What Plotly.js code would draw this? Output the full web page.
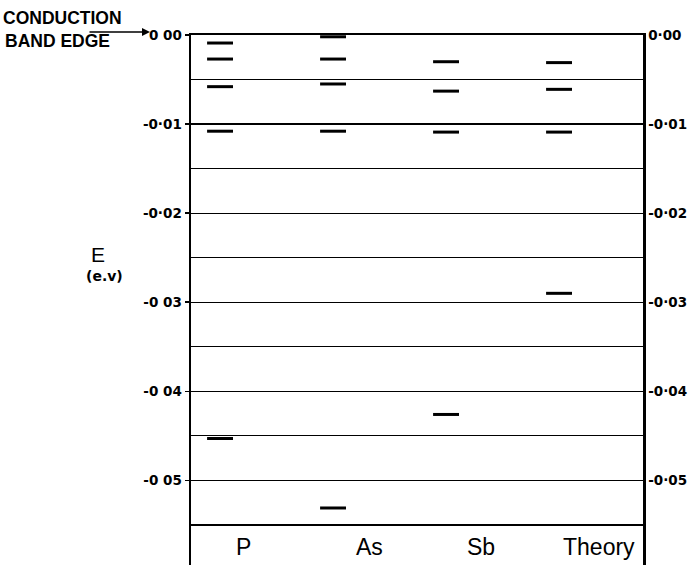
<!DOCTYPE html>
<html><head><meta charset="utf-8">
<script src="https://cdn.plot.ly/plotly-3.0.1.min.js"></script>
<style>html,body{margin:0;padding:0;background:#fff}#chart{width:692px;height:565px}</style>
</head><body><div id="chart"></div>
<script>
// Categories (columns) and energy levels in eV below the conduction band edge
const categories = ["P", "As", "Sb", "Theory"];
const levelsP      = [-0.0009, -0.0027, -0.0058, -0.0108, -0.0453];
const levelsAs     = [-0.0002, -0.0027, -0.0055, -0.0108, -0.0531];
const levelsSb     = [-0.0030, -0.0063, -0.0109, -0.0426];
const levelsTheory = [-0.0031, -0.0061, -0.0109, -0.0290];
const tickVals       = [0, -0.01, -0.02, -0.03, -0.04, -0.05];
const tickTextLeft   = ["0 00", "-0·01", "-0·02", "-0 03", "-0 04", "-0 05"];
const tickTextRight  = ["0·00", "-0·01", "-0·02", "-0·03", "-0·04", "-0·05"];

const allLevels = [levelsP, levelsAs, levelsSb, levelsTheory];
const traces = allLevels.map((lv, i) => ({
  type: "scatter", mode: "markers",
  x: lv.map(() => i), y: lv,
  marker: {symbol: "line-ew", size: 18.5, color: "#000", line: {color: "#000", width: 3}},
  hoverinfo: "skip", showlegend: false
}));
traces.push({type: "scatter", mode: "markers", x: [0], y: [0], yaxis: "y2",
  marker: {opacity: 0}, hoverinfo: "skip", showlegend: false});

const labelShift = [23, 36, 35, 40];
const annotations = categories.map((c, i) => ({
  x: i, y: -0.0575, xref: "x", yref: "y", text: c, showarrow: false,
  xshift: labelShift[i], xanchor: "center", yanchor: "middle",
  font: {family: "Liberation Sans, Arial, sans-serif", size: 23, color: "#000"}
}));
annotations.push({x: 0, y: 0, xref: "paper", yref: "y", xshift: -41, yshift: 3, text: "", showarrow: true,
  ax: -62, ay: 0, axref: "pixel", ayref: "pixel", arrowhead: 2, arrowsize: 1, arrowwidth: 1.6, arrowcolor: "#000"});
annotations.push({x: -0.4204, y: 1.032, xref: "paper", yref: "paper", xanchor: "left", yanchor: "middle", text: "CONDUCTION",
  showarrow: false, font: {family: "Liberation Sans, Arial, sans-serif", size: 17.5, weight: "bold", color: "#000"}});
annotations.push({x: -0.416, y: 0.989, xref: "paper", yref: "paper", xanchor: "left", yanchor: "middle", text: "BAND EDGE",
  showarrow: false, font: {family: "Liberation Sans, Arial, sans-serif", size: 17.5, weight: "bold", color: "#000"}});
annotations.push({x: -0.206, y: -0.0246, xref: "paper", yref: "y", xanchor: "center", yanchor: "middle", text: "E",
  showarrow: false, font: {family: "Liberation Sans, Arial, sans-serif", size: 21, color: "#000"}});
annotations.push({x: -0.192, y: -0.0270, xref: "paper", yref: "y", xanchor: "center", yanchor: "middle", text: "(e.v)",
  showarrow: false, font: {family: "DejaVu Sans, sans-serif", size: 14, weight: "bold", color: "#000"}});

const tickFont = {family: "DejaVu Sans, sans-serif", size: 13.5, weight: "bold", color: "#000"};
const layout = {
  width: 692, height: 565,
  margin: {l: 191, r: 49, t: 35, b: 0},
  paper_bgcolor: "#fff", plot_bgcolor: "#fff",
  xaxis: {range: [-0.257, 3.743], side: "top", showline: true, linecolor: "#000", linewidth: 2.5,
    showgrid: false, zeroline: false, showticklabels: false, ticks: "", fixedrange: true},
  yaxis: {range: [-0.0595, 0], showline: true, linecolor: "#000", linewidth: 2.5,
    tickvals: tickVals, ticktext: tickTextLeft, ticks: "outside", ticklen: 4, tickwidth: 1.5, tickcolor: "#000",
    showgrid: true, gridcolor: "#000", gridwidth: 1.2, zeroline: false,
    minor: {dtick: 0.005, tick0: 0, showgrid: true, gridcolor: "#000", gridwidth: 1.2, ticks: ""},
    tickfont: tickFont, fixedrange: true},
  yaxis2: {range: [-0.0595, 0], overlaying: "y", side: "right", showline: true, linecolor: "#000", linewidth: 2.5,
    tickvals: tickVals, ticktext: tickTextRight, ticks: "", ticklen: 0,
    showgrid: false, zeroline: false, tickfont: tickFont, fixedrange: true},
  annotations: annotations
};
Plotly.newPlot("chart", traces, layout, {displayModeBar: false, staticPlot: true});
</script></body></html>
